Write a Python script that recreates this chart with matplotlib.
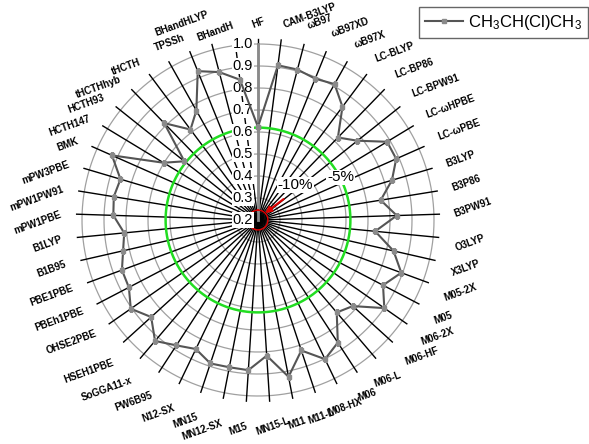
import matplotlib
matplotlib.use('Agg')
import matplotlib.pyplot as plt
import numpy as np

plt.rcParams['font.family'] = ['Liberation Sans', 'DejaVu Sans']
plt.rcParams['mathtext.fontset'] = 'custom'
plt.rcParams['mathtext.rm'] = 'Liberation Sans'
plt.rcParams['mathtext.default'] = 'regular'

# ---- data (clockwise from the top) ----
methods = ['HF', 'CAM-B3LYP', 'ωB97', 'ωB97XD', 'ωB97X', 'LC-BLYP', 'LC-BP86',
           'LC-BPW91', 'LC-ωHPBE', 'LC-ωPBE', 'B3LYP', 'B3P86', 'B3PW91', 'O3LYP',
           'X3LYP', 'M05-2X', 'M05', 'M06-2X', 'M06-HF', 'M06-L', 'M06', 'M08-HX',
           'M11-L', 'M11', 'MN15-L', 'M15', 'MN12-SX', 'MN15', 'N12-SX', 'PW6B95',
           'SoGGA11-x', 'HSEH1PBE', 'OHSE2PBE', 'PBEh1PBE', 'PBE1PBE', 'B1B95',
           'B1LYP', 'mPW1PBE', 'mPW1PW91', 'mPW3PBE', 'BMK', 'HCTH147', 'HCTH93',
           'tHCTHhyb', 'tHCTH', '', 'TPSSh', 'BHandHLYP', 'BHandH']
values = [0.623, 0.909, 0.907, 0.893, 0.909, 0.842, 0.722,
          0.778, 0.886, 0.887, 0.835, 0.765, 0.831, 0.735,
          0.832, 0.894, 0.841, 0.900, 0.782, 0.752, 0.865, 0.902,
          0.825, 0.926, 0.818, 0.884, 0.882, 0.887, 0.851, 0.880,
          0.922, 0.856, 0.905, 0.862, 0.859, 0.829,
          0.811, 0.858, 0.864, 0.852, 0.926, 0.702, 0.628,
          0.813, 0.713, 0.771, 0.930, 0.895, 0.843]
series_name = 'CH$_3$CH(Cl)CH$_3$'
r_ticks = [0.2, 0.3, 0.4, 0.5, 0.6, 0.7, 0.8, 0.9, 1.0]
ref_levels = [0.245, 0.62]          # -10 %, -5 % reference circles
ref_labels = ['-10%', '-5%']

# ---- layout ----
W, H = 589, 444
fig = plt.figure(figsize=(W / 100, H / 100), dpi=100)
rmin, rmax = 0.2, 1.03
cx, cy = 258, 444 - 220
R = 176 * (rmax - rmin) / 0.8
ax = fig.add_axes([(cx - R) / W, (cy - R) / H, 2 * R / W, 2 * R / H], projection='polar')
ax.set_theta_zero_location('N')
ax.set_theta_direction(-1)
ax.set_rlim(rmin, rmax)
ax.grid(False)
ax.set_xticks([])
ax.set_yticks([])
ax.spines['polar'].set_visible(False)
ax.patch.set_alpha(0)

n = len(methods)
theta = np.arange(n) * 2 * np.pi / n
tt = np.linspace(0, 2 * np.pi, 400)

# grid circles
for r in r_ticks[1:]:
    ax.plot(tt, np.full_like(tt, r), color='#a0a0a0', lw=0.9, zorder=1)
# spokes
for t in theta:
    ax.plot([t, t], [rmin, 1.025], color='black', lw=1.0, zorder=2)
# radial axis
ax.plot([0, 0], [rmin, 1.0], color='#8a8a8a', lw=2.0, zorder=2.5)

# reference circles
ax.plot(tt, np.full_like(tt, ref_levels[0]), color='#e00000', lw=1.0, zorder=3)
ax.plot(tt, np.full_like(tt, ref_levels[1]), color='#22dd22', lw=1.8, zorder=3)

# radial tick labels
for r in r_ticks:
    ax.annotate(f'{r:.1f}', xy=(0, r), xytext=(-3.5, 0), textcoords='offset points',
                ha='right', va='center', fontsize=10.5,
                bbox=dict(fc='white', ec='none', pad=0.6), zorder=4)

# data
vals = np.array(values + values[:1])
th = np.concatenate([theta, theta[:1]])
line, = ax.plot(th, vals, color='#555555', lw=1.5, marker='s', ms=3,
                mfc='#8a8a8a', mec='#8a8a8a', zorder=5, label=series_name)

# reference labels
ax.text(np.deg2rad(47), 0.433, ref_labels[0], fontsize=11, ha='center', va='center',
        bbox=dict(fc='white', ec='none', pad=0.5), zorder=6)
ax.text(np.deg2rad(62.7), 0.622, ref_labels[1], fontsize=11, ha='center', va='center',
        bbox=dict(fc='white', ec='none', pad=0.5), zorder=6)
ax.annotate('', xy=(np.deg2rad(46), 0.245), xytext=(np.deg2rad(50.7), 0.35),
            arrowprops=dict(arrowstyle='-|>', color='#e00000', lw=1.5,
                            mutation_scale=9, shrinkA=0, shrinkB=0), zorder=6)

# category labels (rotated 20 deg, anchored at their near end)
rot = 20
r_lab = 1.095
for t, name in zip(theta, methods):
    if not name:
        continue
    phi = np.pi / 2 - t
    c, s = np.cos(phi), np.sin(phi)
    cr, sr = np.cos(phi - np.deg2rad(rot)), np.sin(phi - np.deg2rad(rot))
    dy = 0
    if sr > -0.33:
        va = 'center'
        ha = 'left' if c > 0.05 else ('right' if c < -0.05 else 'center')
        if c > 0.05 and 0.3 < s < 0.97:
            dy = 3
        if c < 0 and 0.95 < s < 0.98:
            dy = 16
    else:
        va = 'top'
        ha = 'left' if cr > 0.4 else ('right' if cr < -0.35 else 'center')
        dy = -5
    ax.annotate(name, xy=(t, r_lab), xytext=(0, dy), textcoords='offset pixels',
                fontsize=7, fontweight='bold', rotation=rot, rotation_mode='anchor',
                ha=ha, va=va, annotation_clip=False, zorder=6)

# legend
leg = fig.legend(handles=[line], loc='upper right',
                 bbox_to_anchor=(588 / W, 1 - 7 / H), bbox_transform=fig.transFigure,
                 frameon=True, fancybox=False, fontsize=12, handlelength=2.3,
                 handletextpad=0.3, borderpad=0.35, borderaxespad=0)
leg.get_frame().set_edgecolor('#404040')
leg.get_frame().set_linewidth(1.0)

fig.savefig('out.png', dpi=100)
